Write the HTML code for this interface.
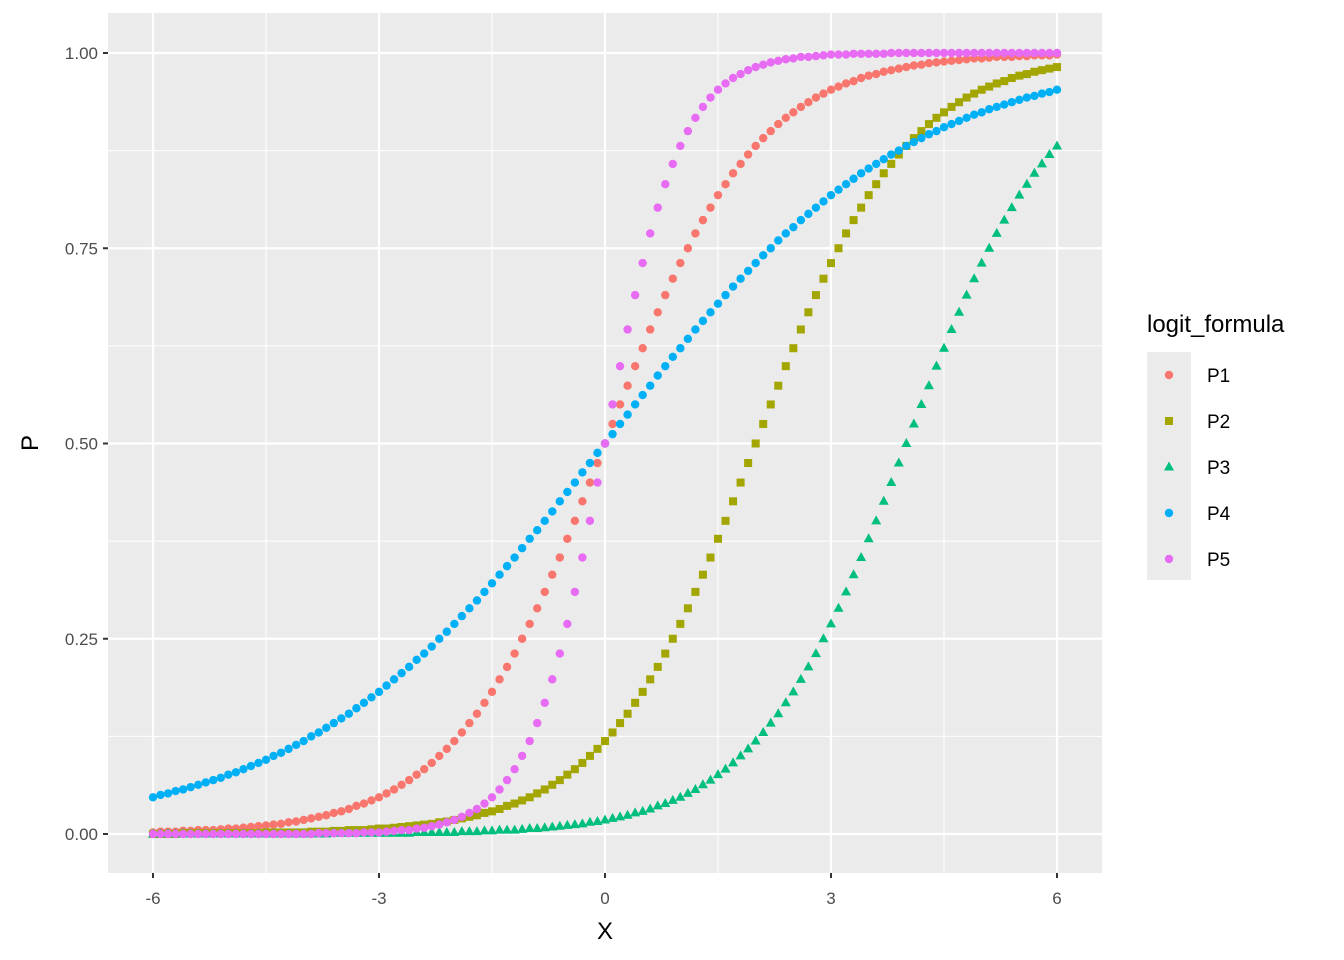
<!DOCTYPE html>
<html><head><meta charset="utf-8"><style>
html,body{margin:0;padding:0;background:#fff;}
svg{display:block;font-family:"Liberation Sans",Arial,sans-serif;}
</style></head><body>
<svg id="chart" width="1344" height="960" viewBox="0 0 1344 960" xmlns="http://www.w3.org/2000/svg">
<rect x="108" y="13" width="994" height="860" fill="#EBEBEB"/>
<g id="grid"></g>
<g id="marks"></g>
<g id="axes"></g>
<text x="605" y="939" font-size="24" text-anchor="middle" fill="#000">X</text>
<text x="38" y="443" font-size="24" text-anchor="middle" fill="#000" transform="rotate(-90 38 443)">P</text>
<g id="legend">
<text x="1147" y="332" font-size="24" fill="#000">logit_formula</text>
<rect x="1147" y="352" width="44" height="228" fill="#EBEBEB"/>
</g>
</svg>
<script>
const xTicks = [-6, -3, 0, 3, 6];
const xTickLabels = ["-6", "-3", "0", "3", "6"];
const yTicks = [0, 0.25, 0.5, 0.75, 1];
const yTickLabels = ["0.00", "0.25", "0.50", "0.75", "1.00"];
const seriesNames = ["P1", "P2", "P3", "P4", "P5"];
const P1 = [.002,.003,.003,.003,.004,.004,.005,.005,.005,.006,.007,.007,.008,.009,.010,.011,.012,.013,.015,.016,.018,.020,.022,.024,.027,.029,.032,.036,.039,.043,.047,.052,.057,.063,.069,.076,.083,.091,.100,.109,.119,.130,.142,.154,.168,.182,.198,.214,.231,.250,.269,.289,.310,.332,.354,.378,.401,.426,.450,.475,.500,.525,.550,.574,.599,.622,.646,.668,.690,.711,.731,.750,.769,.786,.802,.818,.832,.846,.858,.870,.881,.891,.900,.909,.917,.924,.931,.937,.943,.948,.953,.957,.961,.964,.968,.971,.973,.976,.978,.980,.982,.984,.985,.987,.988,.989,.990,.991,.992,.993,.993,.994,.995,.995,.995,.996,.996,.997,.997,.997,.998];
const P2 = [.000,.000,.000,.000,.001,.001,.001,.001,.001,.001,.001,.001,.001,.001,.001,.002,.002,.002,.002,.002,.002,.003,.003,.003,.004,.004,.005,.005,.005,.006,.007,.007,.008,.009,.010,.011,.012,.013,.015,.016,.018,.020,.022,.024,.027,.029,.032,.036,.039,.043,.047,.052,.057,.063,.069,.076,.083,.091,.100,.109,.119,.130,.142,.154,.168,.182,.198,.214,.231,.250,.269,.289,.310,.332,.354,.378,.401,.426,.450,.475,.500,.525,.550,.574,.599,.622,.646,.668,.690,.711,.731,.750,.769,.786,.802,.818,.832,.846,.858,.870,.881,.891,.900,.909,.917,.924,.931,.937,.943,.948,.953,.957,.961,.964,.968,.971,.973,.976,.978,.980,.982];
const P3 = [.000,.000,.000,.000,.000,.000,.000,.000,.000,.000,.000,.000,.000,.000,.000,.000,.000,.000,.000,.000,.000,.000,.000,.000,.001,.001,.001,.001,.001,.001,.001,.001,.001,.001,.001,.002,.002,.002,.002,.002,.002,.003,.003,.003,.004,.004,.005,.005,.005,.006,.007,.007,.008,.009,.010,.011,.012,.013,.015,.016,.018,.020,.022,.024,.027,.029,.032,.036,.039,.043,.047,.052,.057,.063,.069,.076,.083,.091,.100,.109,.119,.130,.142,.154,.168,.182,.198,.214,.231,.250,.269,.289,.310,.332,.354,.378,.401,.426,.450,.475,.500,.525,.550,.574,.599,.622,.646,.668,.690,.711,.731,.750,.769,.786,.802,.818,.832,.846,.858,.870,.881];
const P4 = [.047,.050,.052,.055,.057,.060,.063,.066,.069,.072,.076,.079,.083,.087,.091,.095,.100,.104,.109,.114,.119,.125,.130,.136,.142,.148,.154,.161,.168,.175,.182,.190,.198,.206,.214,.223,.231,.240,.250,.259,.269,.279,.289,.299,.310,.321,.332,.343,.354,.366,.378,.389,.401,.413,.426,.438,.450,.463,.475,.488,.500,.512,.525,.537,.550,.562,.574,.587,.599,.611,.622,.634,.646,.657,.668,.679,.690,.701,.711,.721,.731,.741,.750,.760,.769,.777,.786,.794,.802,.810,.818,.825,.832,.839,.846,.852,.858,.864,.870,.875,.881,.886,.891,.896,.900,.905,.909,.913,.917,.921,.924,.928,.931,.934,.937,.940,.943,.945,.948,.950,.953];
const P5 = [.000,.000,.000,.000,.000,.000,.000,.000,.000,.000,.000,.000,.000,.000,.000,.000,.000,.000,.000,.000,.000,.000,.001,.001,.001,.001,.001,.001,.002,.002,.002,.003,.004,.005,.005,.007,.008,.010,.012,.015,.018,.022,.027,.032,.039,.047,.057,.069,.083,.100,.119,.142,.168,.198,.231,.269,.310,.354,.401,.450,.500,.550,.599,.646,.690,.731,.769,.802,.832,.858,.881,.900,.917,.931,.943,.953,.961,.968,.973,.978,.982,.985,.988,.990,.992,.993,.995,.995,.996,.997,.998,.998,.998,.999,.999,.999,.999,.999,1,1,1,1,1,1,1,1,1,1,1,1,1,1,1,1,1,1,1,1,1,1,1];
const X = [];
for (let i = 0; i <= 120; i++) X.push(Math.round((-6 + i * 0.1) * 10) / 10);

const NS = "http://www.w3.org/2000/svg";
const sx = v => 153 + (v + 6) * (1057 - 153) / 12;
const sy = v => 834 - v * (834 - 53);
function mk(tag, attrs, parent) {
  const e = document.createElementNS(NS, tag);
  for (const k in attrs) e.setAttribute(k, attrs[k]);
  parent.appendChild(e);
  return e;
}
const grid = document.getElementById("grid");
const axes = document.getElementById("axes");
// minor grid
for (let i = 0; i < yTicks.length - 1; i++) {
  const y = sy((yTicks[i] + yTicks[i + 1]) / 2);
  const l = mk("line", {x1:108, x2:1102, y1:y, y2:y, stroke:"#fff", "stroke-width":1.1}, grid);
  
  
}
for (let i = 0; i < xTicks.length - 1; i++) {
  const x = sx((xTicks[i] + xTicks[i + 1]) / 2);
  const l = mk("line", {x1:x, x2:x, y1:13, y2:873, stroke:"#fff", "stroke-width":1.1}, grid);
  
  
}
yTicks.forEach((v, i) => {
  const y = sy(v);
  const l = mk("line", {x1:108, x2:1102, y1:y, y2:y, stroke:"#fff", "stroke-width":2.2}, grid);
  
  
  const t = mk("line", {x1:103, x2:108, y1:y, y2:y, stroke:"#333", "stroke-width":2}, axes);
  
  
  const tx = mk("text", {x:98, y:y + 6, "font-size":17, "text-anchor":"end", fill:"#4D4D4D"}, axes);
  tx.textContent = yTickLabels[i];
  
  
});
xTicks.forEach((v, i) => {
  const x = sx(v);
  const l = mk("line", {x1:x, x2:x, y1:13, y2:873, stroke:"#fff", "stroke-width":2.2}, grid);
  
  
  const t = mk("line", {x1:x, x2:x, y1:873, y2:878, stroke:"#333", "stroke-width":2}, axes);
  
  
  const tx = mk("text", {x:x, y:904, "font-size":17, "text-anchor":"middle", fill:"#4D4D4D"}, axes);
  tx.textContent = xTickLabels[i];
  
  
});

const colors = ["#F8766D", "#A3A500", "#00BF7D", "#00B0F6", "#E76BF3"];
const shapes = ["circle", "square", "triangle", "circle", "circle"];
const data = [P1, P2, P3, P4, P5];
function drawShape(shape, x, y, color, parent) {
  if (shape === "circle") return mk("circle", {cx:x, cy:y, r:4.2, fill:color}, parent);
  if (shape === "square") return mk("rect", {x:x - 4, y:y - 4, width:8, height:8, fill:color}, parent);
  return mk("polygon", {points:`${x},${y - 5.5} ${x - 5},${y + 3.5} ${x + 5},${y + 3.5}`, fill:color}, parent);
}
const marks = document.getElementById("marks");
data.forEach((arr, s) => {
  const g = mk("g", {}, marks);
  
  
  arr.forEach((v, i) => {
    const p = drawShape(shapes[s], sx(X[i]), sy(v), colors[s], g);
    
    
  });
});
const legend = document.getElementById("legend");
seriesNames.forEach((n, s) => {
  const cy = 375 + s * 46;
  const g = mk("g", {}, legend);
  
  
  const k = drawShape(shapes[s], 1169, cy, colors[s], g);
  
  
  const t = mk("text", {x:1207, y:cy + 7, "font-size":19, fill:"#000"}, g);
  t.textContent = n;
  
  
});
</script>
</body></html>
